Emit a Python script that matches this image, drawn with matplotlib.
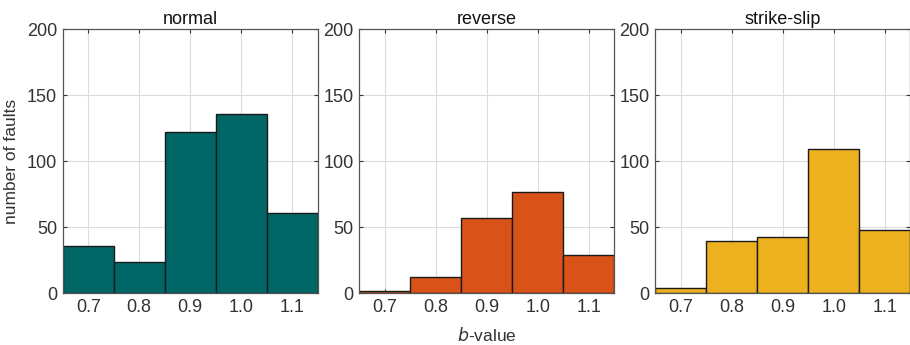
import numpy as np
import matplotlib.pyplot as plt

plt.rcParams['font.family'] = ['Liberation Sans', 'DejaVu Sans']

bin_centers = [0.7, 0.8, 0.9, 1.0, 1.1]
tick_labels = ['0.7', '0.8', '0.9', '1.0', '1.1']
titles = ['normal', 'reverse', 'strike-slip']
normal = [36, 24, 122, 136, 61]
reverse = [2, 12, 57, 77, 29]
strike_slip = [4, 40, 43, 109, 48]
counts = [normal, reverse, strike_slip]
colors = ['#006666', '#D95319', '#EDB120']

fig = plt.figure(figsize=(9.1, 3.45), dpi=100)
lefts = [62.7 / 910, 359.3 / 910, 655.3 / 910]
w = 255 / 910
b = 1 - 293.3 / 345
h = 264 / 345

for i in range(3):
    ax = fig.add_axes([lefts[i], b, w, h])
    ax.bar(bin_centers, counts[i], width=0.1, color=colors[i],
           edgecolor='#1a1a1a', linewidth=1.0, zorder=3)
    ax.set_xlim(0.65, 1.15)
    ax.set_ylim(0, 200)
    ax.set_xticks(bin_centers)
    ax.set_xticklabels(tick_labels)
    ax.set_yticks([0, 50, 100, 150, 200])
    ax.grid(True, color='#dcdcdc', linewidth=0.8, zorder=0)
    ax.tick_params(direction='in', top=True, right=True, length=3,
                   labelsize=13, colors='#333333', width=0.8, pad=4)
    for s in ax.spines.values():
        s.set_color('#555555')
        s.set_linewidth(0.9)
        s.set_zorder(4)
    ax.set_title(titles[i], fontsize=13, color='#111111', pad=4)
    if i == 0:
        ax.set_ylabel('number of faults', fontsize=12.5, color='#333333', labelpad=6)
    if i == 1:
        ax.set_xlabel('$\\it{b}$-value', fontsize=12.5, color='#333333', labelpad=7)

fig.savefig('out.png', dpi=100)
